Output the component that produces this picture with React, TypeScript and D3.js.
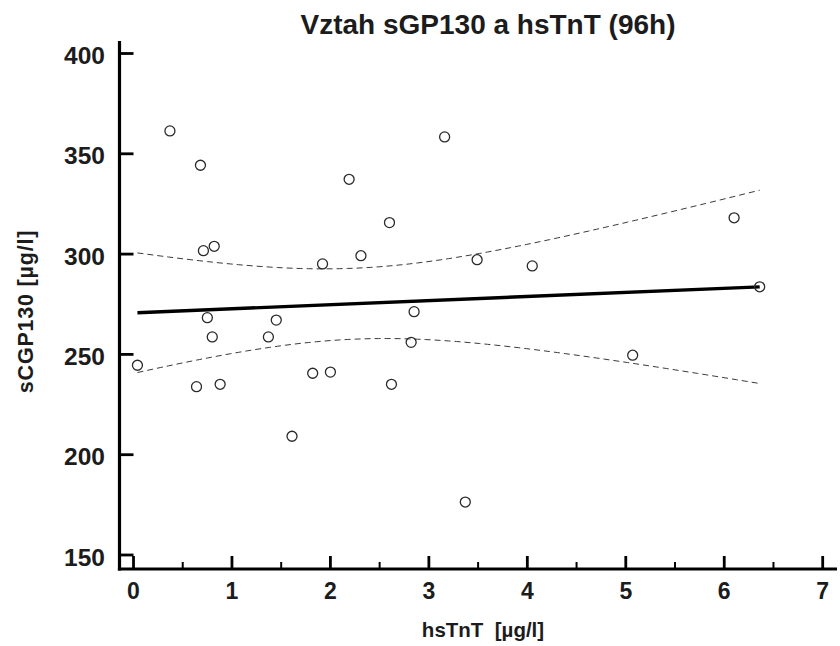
import React from "react";
import * as d3 from "d3";

// hsTnT [µg/l] and sGP130 [µg/l] per patient at 96 h
const hsTnT = [
  0.04, 0.37, 0.68, 0.71, 0.82, 0.75, 1.45, 0.64, 0.88, 0.8, 1.37, 1.61, 1.82, 2.0,
  1.92, 2.19, 2.31, 2.6, 2.85, 2.62, 2.82, 3.16, 3.37, 3.49, 4.05, 5.07, 6.1, 6.36,
];
const sGP130 = [
  244.6, 361.4, 344.3, 301.7, 303.9, 268.3, 267.1, 233.9, 235.1, 258.7, 258.7, 209.2,
  240.6, 241.2, 295.1, 337.3, 299.2, 315.7, 271.3, 235.1, 256.0, 358.4, 176.4, 297.2,
  294.1, 249.6, 318.1, 283.7,
];

const xTicks = [0, 1, 2, 3, 4, 5, 6, 7];
const xMinorTicks = [0.5, 1.5, 2.5, 3.5, 4.5, 5.5, 6.5];
const yTicks = [150, 200, 250, 300, 350, 400];

// linear fit and 95 % confidence band of the mean
const FIT_INTERCEPT = 270.7;
const FIT_SLOPE = 2.04;
const T_CRIT = 2.056;

const TITLE = "Vztah sGP130 a hsTnT (96h)";
const X_LABEL = "hsTnT  [µg/l]";
const Y_LABEL = "sCGP130 [µg/l]";

const FONT = "'Liberation Sans', Arial, Helvetica, sans-serif";
const INK = "#1c1c1c";

export default function App() {
  const width = 840;
  const height = 646;

  const x = d3.scaleLinear().domain([0, 7]).range([133.5, 822.7]);
  const y = d3.scaleLinear().domain([150, 400]).range([555, 53.5]);

  const axisX = 119.5;
  const axisY = 569;

  const n = hsTnT.length;
  const mx = d3.mean(hsTnT) as number;
  const sxx = d3.sum(hsTnT, (v) => (v - mx) * (v - mx));
  const fit = (v: number) => FIT_INTERCEPT + FIT_SLOPE * v;
  const sse = d3.sum(hsTnT, (v, i) => (sGP130[i] - fit(v)) ** 2);
  const s = Math.sqrt(sse / (n - 2));
  const half = (v: number) => T_CRIT * s * Math.sqrt(1 / n + ((v - mx) * (v - mx)) / sxx);

  const [xMin, xMax] = d3.extent(hsTnT) as [number, number];
  const grid = d3.range(0, 81).map((i) => xMin + ((xMax - xMin) * i) / 80);

  const line = d3
    .line<number>()
    .x((v) => x(v))
    .curve(d3.curveMonotoneX);
  const upper = line.y((v) => y(fit(v) + half(v)))(grid) as string;
  const lower = line.y((v) => y(fit(v) - half(v)))(grid) as string;

  return (
    <svg
      width={width}
      height={height}
      style={{ position: "absolute", left: 0, top: 0, background: "#fff" }}
      fontFamily={FONT}
    >
      <rect x={0} y={0} width={width} height={height} fill="#fff" />

      {/* title */}
      <text x={488} y={34} textAnchor="middle" fontSize={28} fontWeight="bold" fill={INK}>
        {TITLE}
      </text>

      {/* confidence band */}
      <path d={upper} fill="none" stroke="#3a3a3a" strokeWidth={1} strokeDasharray="6,4" />
      <path d={lower} fill="none" stroke="#3a3a3a" strokeWidth={1} strokeDasharray="6,4" />

      {/* regression line */}
      <line
        x1={x(xMin)}
        y1={y(fit(xMin))}
        x2={x(xMax)}
        y2={y(fit(xMax))}
        stroke="#000"
        strokeWidth={3.4}
      />

      {/* observations */}
      {hsTnT.map((v, i) => (
        <circle
          key={i}
          cx={x(v)}
          cy={y(sGP130[i])}
          r={5}
          fill="none"
          stroke="#2a2a2a"
          strokeWidth={1.3}
        />
      ))}

      {/* y axis */}
      <line x1={axisX} y1={41} x2={axisX} y2={axisY + 1.5} stroke="#000" strokeWidth={3.2} />
      {yTicks.map((t) => (
        <g key={t}>
          <line x1={axisX} y1={y(t)} x2={133.5} y2={y(t)} stroke="#000" strokeWidth={2.8} />
          <text
            x={105}
            y={y(t) + 10.5}
            textAnchor="end"
            fontSize={24.5}
            fontWeight="bold"
            fill={INK}
          >
            {t}
          </text>
        </g>
      ))}

      {/* x axis */}
      <line x1={axisX - 1.6} y1={axisY} x2={837} y2={axisY} stroke="#000" strokeWidth={3.2} />
      {xTicks.map((t) => (
        <g key={t}>
          <line x1={x(t)} y1={axisY} x2={x(t)} y2={556} stroke="#000" strokeWidth={2.8} />
          <text x={x(t)} y={599} textAnchor="middle" fontSize={23} fontWeight="bold" fill={INK}>
            {t}
          </text>
        </g>
      ))}
      {xMinorTicks.map((t) => (
        <line key={t} x1={x(t)} y1={axisY} x2={x(t)} y2={562} stroke="#000" strokeWidth={2} />
      ))}

      {/* axis titles */}
      <text
        x={483}
        y={637}
        textAnchor="middle"
        fontSize={20.5}
        fontWeight="bold"
        fill={INK}
        style={{ whiteSpace: "pre" }}
      >
        {X_LABEL}
      </text>
      <text
        transform="translate(33,311.5) rotate(-90)"
        textAnchor="middle"
        fontSize={21.5}
        fontWeight="bold"
        letterSpacing={0.8}
        fill={INK}
      >
        {Y_LABEL}
      </text>
    </svg>
  );
}
